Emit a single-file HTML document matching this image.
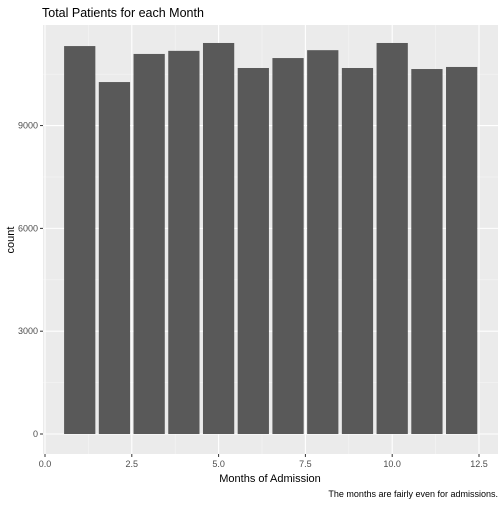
<!DOCTYPE html>
<html><head><meta charset="utf-8"><style>
body{margin:0;background:#fff;font-family:"Liberation Sans",sans-serif}
</style></head><body>
<svg id="c" width="504" height="504" xmlns="http://www.w3.org/2000/svg">
<rect width="504" height="504" fill="#fff"/>
<text x="42" y="17" font-size="12.5" fill="#000">Total Patients for each Month</text>
<text x="270" y="482" font-size="11" text-anchor="middle">Months of Admission</text>
<text x="14" y="240" font-size="11" text-anchor="middle" transform="rotate(-90 14 240)">count</text>
<text x="498" y="497" font-size="9" text-anchor="end">The months are fairly even for admissions.</text>
<g id="plot"></g>
</svg>
<script>
const months=[1,2,3,4,5,6,7,8,9,10,11,12];
const counts=[11320,10270,11090,11180,11410,10680,10970,11200,10680,11410,10650,10710];
const xTicks=[0,2.5,5,7.5,10,12.5];
const xTickLabels=["0.0","2.5","5.0","7.5","10.0","12.5"];
const yTicks=[0,3000,6000,9000];
const ns="http://www.w3.org/2000/svg";
const L=43,R=498,T=25,B=454;
const X=v=>45+v*34.72;
const Y=v=>434-v*0.03427;
const g=document.getElementById('plot');
function mk(t,a){const e=document.createElementNS(ns,t);for(const k in a)e.setAttribute(k,a[k]);g.appendChild(e);return e;}
let bg=mk('rect',{x:L,y:T,width:R-L,height:B-T,fill:'#EBEBEB'});


for(let i=0;i<xTicks.length-1;i++){const m=(xTicks[i]+xTicks[i+1])/2;mk('line',{x1:X(m),x2:X(m),y1:T,y2:B,stroke:'#F5F5F5','stroke-width':0.6});}
for(let i=0;i<yTicks.length;i++){const m=yTicks[i]+1500;mk('line',{x1:L,x2:R,y1:Y(m),y2:Y(m),stroke:'#F5F5F5','stroke-width':0.6});}
xTicks.forEach((t,i)=>{
 mk('line',{x1:X(t),x2:X(t),y1:T,y2:B,stroke:'#fff','stroke-width':1.1});
 mk('line',{x1:X(t),x2:X(t),y1:B,y2:B+3,stroke:'#333','stroke-width':1});
 const tx=mk('text',{x:X(t),y:B+13,'font-size':9,'text-anchor':'middle',fill:'#4D4D4D'});tx.textContent=xTickLabels[i];
 
 
});
yTicks.forEach(t=>{
 mk('line',{x1:L,x2:R,y1:Y(t),y2:Y(t),stroke:'#fff','stroke-width':1.1});
 mk('line',{x1:L-3,x2:L,y1:Y(t),y2:Y(t),stroke:'#333','stroke-width':1});
 const tx=mk('text',{x:L-5,y:Y(t)+3,'font-size':9,'text-anchor':'end',fill:'#4D4D4D'});tx.textContent=t;
 
 
});
months.forEach((m,i)=>{
 const r=mk('rect',{x:X(m-0.45),width:X(m+0.45)-X(m-0.45),y:Y(counts[i]),height:Y(0)-Y(counts[i]),fill:'#595959'});
 
 
});
</script>
</body></html>
